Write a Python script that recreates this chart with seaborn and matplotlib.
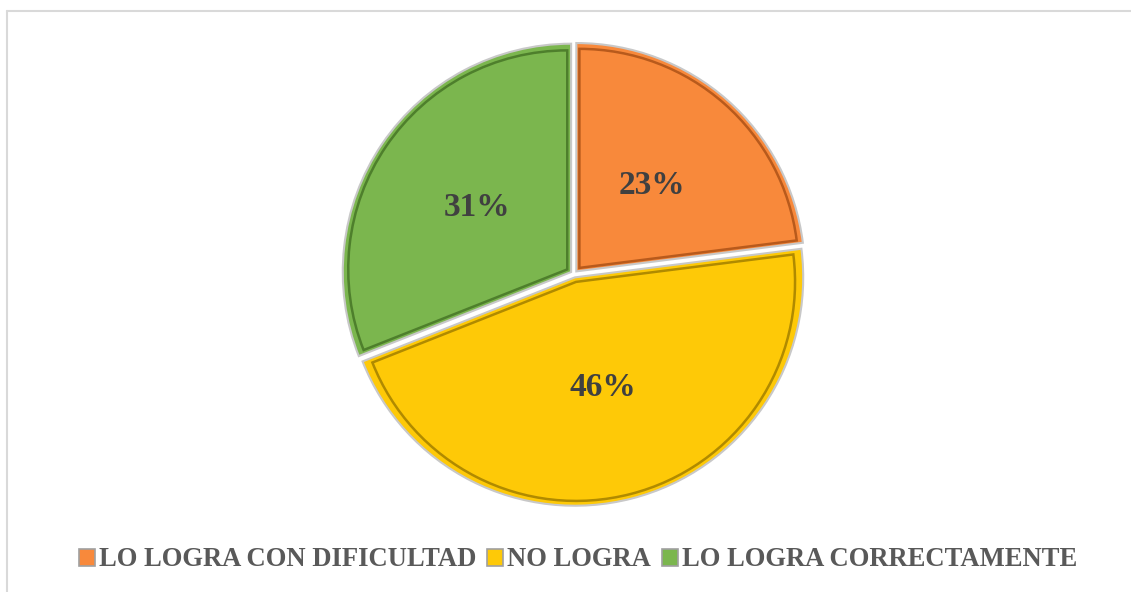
import matplotlib
matplotlib.use("Agg")
import matplotlib.pyplot as plt
from matplotlib.lines import Line2D
from matplotlib.patches import Patch
import seaborn as sns

# Chart data
categories = ["LO LOGRA CON DIFICULTAD", "NO LOGRA", "LO LOGRA CORRECTAMENTE"]
percent = [23, 46, 31]
colors = ["#F8893B", "#FEC907", "#7BB64E"]
edge_colors = ["#B85A1C", "#B08A00", "#4E7F2C"]

sns.set_theme(style="white")
plt.rcParams['font.family'] = ['Liberation Serif', 'DejaVu Serif']

W, H = 1131, 592
fig = plt.figure(figsize=(W / 100, H / 100), dpi=100)

# light border of the chart area (cut off at right and bottom)
fig.add_artist(Line2D([7 / W, 1.0], [1 - 11 / H, 1 - 11 / H], color="#D9D9D9", lw=1.5))
fig.add_artist(Line2D([7 / W, 7 / W], [1 - 11 / H, 0], color="#D9D9D9", lw=1.5))

cx, cy, r = 574, 274, 233
ax = fig.add_axes([(cx - r) / W, (H - cy - r) / H, 2 * r / W, 2 * r / H])

palette = sns.color_palette(colors)
wedges, texts, autotexts = ax.pie(
    percent, colors=palette, startangle=90, counterclock=False,
    explode=[0.015, 0.015, 0.015], radius=0.98,
    autopct=lambda p: f"{p:.0f}%", pctdistance=0.5,
    wedgeprops=dict(edgecolor="#C8C8C8", linewidth=1.5),
    textprops=dict(fontsize=24, fontweight="bold", color="#404040"))

# inner bevel outlines
inner, _ = ax.pie(
    percent, colors=palette, startangle=90, counterclock=False,
    explode=[0.035, 0.035, 0.035], radius=0.94,
    wedgeprops=dict(linewidth=1.8, fill=False))
for w, ec in zip(inner, edge_colors):
    w.set_edgecolor(ec)
    w.set_zorder(1.5)
for t in autotexts:
    t.set_zorder(5)

ax.set_xlim(-1, 1)
ax.set_ylim(-1, 1)
ax.set_aspect("equal")
ax.axis("off")

handles = [Patch(facecolor=c, edgecolor="#A0A0A0", linewidth=1.2) for c in palette]
fig.legend(handles, categories, loc="center", bbox_to_anchor=(578 / W, 1 - 560 / H),
           ncol=3, frameon=False, handlelength=0.6, handleheight=0.6,
           handletextpad=0.15, columnspacing=0.4,
           prop=dict(size=19.2, weight="bold"), labelcolor="#595959")

fig.savefig("out.png", dpi=100, facecolor="white")
